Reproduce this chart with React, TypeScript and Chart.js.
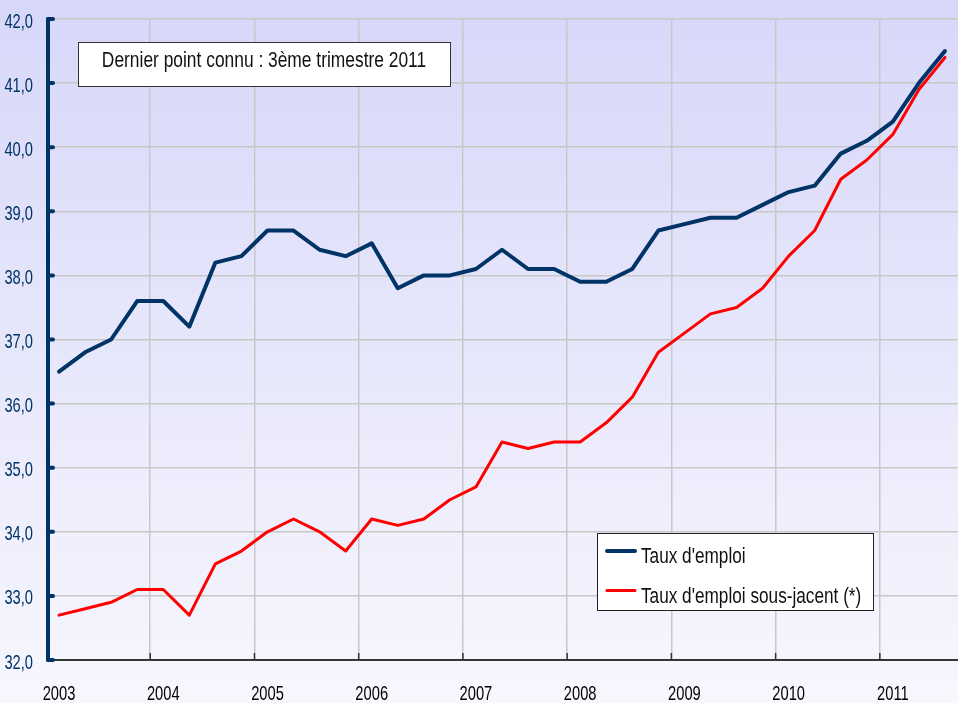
import React, { useEffect, useRef } from "react";
import { Chart, registerables } from "chart.js";

Chart.register(...registerables);

// ---- data ----
const quarterLabels = [
  "2003 T1", "2003 T2", "2003 T3", "2003 T4",
  "2004 T1", "2004 T2", "2004 T3", "2004 T4",
  "2005 T1", "2005 T2", "2005 T3", "2005 T4",
  "2006 T1", "2006 T2", "2006 T3", "2006 T4",
  "2007 T1", "2007 T2", "2007 T3", "2007 T4",
  "2008 T1", "2008 T2", "2008 T3", "2008 T4",
  "2009 T1", "2009 T2", "2009 T3", "2009 T4",
  "2010 T1", "2010 T2", "2010 T3", "2010 T4",
  "2011 T1", "2011 T2", "2011 T3",
];
const yearLabels = ["2003", "2004", "2005", "2006", "2007", "2008", "2009", "2010", "2011"];

const tauxEmploi = [
  36.5, 36.8, 37.0, 37.6, 37.6, 37.2, 38.2, 38.3, 38.7, 38.7, 38.4, 38.3,
  38.5, 37.8, 38.0, 38.0, 38.1, 38.4, 38.1, 38.1, 37.9, 37.9, 38.1, 38.7,
  38.8, 38.9, 38.9, 39.1, 39.3, 39.4, 39.9, 40.1, 40.4, 41.0, 41.5,
];
const tauxSousJacent = [
  32.7, 32.8, 32.9, 33.1, 33.1, 32.7, 33.5, 33.7, 34.0, 34.2, 34.0, 33.7,
  34.2, 34.1, 34.2, 34.5, 34.7, 35.4, 35.3, 35.4, 35.4, 35.7, 36.1, 36.8,
  37.1, 37.4, 37.5, 37.8, 38.3, 38.7, 39.5, 39.8, 40.2, 40.9, 41.4,
];
const seriesNames = ["Taux d'emploi", "Taux d'emploi sous-jacent (*)"];
const noteText = "Dernier point connu : 3ème trimestre 2011";
const yMin = 32;
const yMax = 42;

const fmtY = (v: number) => Number(v).toFixed(1).replace(".", ",");

// ---- font detection ----
function hasFont(name: string): boolean {
  const c = document.createElement("canvas").getContext("2d");
  if (!c) return false;
  const s = "Dernier point connu 2011 mmmwwwiii";
  c.font = "40px monospace";
  const a = c.measureText(s).width;
  c.font = `40px "${name}", monospace`;
  return Math.abs(c.measureText(s).width - a) > 0.5;
}

export default function App() {
  const ref = useRef<HTMLCanvasElement | null>(null);

  useEffect(() => {
    const canvas = ref.current;
    if (!canvas) return;

    // emulate Arial Narrow: Liberation Sans (Arial metrics) squeezed horizontally
    let family = '"Liberation Sans", Arial, sans-serif';
    let base = 0.82;
    if (hasFont("Liberation Sans Narrow")) { family = '"Liberation Sans Narrow"'; base = 1; }

    const drawText = (
      ctx: CanvasRenderingContext2D, text: string, x: number, y: number,
      align: CanvasTextAlign, size: number, color: string, squeeze: number
    ) => {
      ctx.save();
      ctx.font = `${size}px ${family}`;
      ctx.fillStyle = color;
      ctx.textAlign = align;
      ctx.textBaseline = "alphabetic";
      ctx.translate(x, y);
      ctx.scale(squeeze * (base === 1 ? 1 / 0.82 : 1), 1);
      ctx.fillText(text, 0, 0);
      ctx.restore();
    };

    const decor = {
      id: "decor",
      beforeDraw(chart: any) {
        const { ctx, width, height } = chart;
        const g = ctx.createLinearGradient(0, 0, 0, height);
        g.addColorStop(0, "#d7d7f9");
        g.addColorStop(1, "#f7f7fe");
        ctx.save();
        ctx.fillStyle = g;
        ctx.fillRect(0, 0, width, height);
        ctx.restore();
      },
      afterDraw(chart: any) {
        const { ctx, chartArea } = chart;
        const xs = chart.scales.x;
        const ys = chart.scales.y;
        const axisX = chartArea.left + 2;
        ctx.save();
        // x axis line
        ctx.strokeStyle = "#000";
        ctx.lineWidth = 1.5;
        ctx.beginPath();
        ctx.moveTo(axisX, chartArea.bottom);
        ctx.lineTo(chartArea.right, chartArea.bottom);
        ctx.stroke();
        // x inward ticks at year boundaries
        ctx.strokeStyle = "#333";
        ctx.lineWidth = 1.5;
        for (let i = 4; i < quarterLabels.length; i += 4) {
          const px = (xs.getPixelForTick(i) + xs.getPixelForTick(i - 1)) / 2;
          ctx.beginPath();
          ctx.moveTo(px, chartArea.bottom - 7);
          ctx.lineTo(px, chartArea.bottom);
          ctx.stroke();
        }
        // y axis thick line
        ctx.strokeStyle = "#003366";
        ctx.lineWidth = 4;
        ctx.lineCap = "round";
        ctx.beginPath();
        ctx.moveTo(axisX, ys.getPixelForValue(yMax));
        ctx.lineTo(axisX, ys.getPixelForValue(yMin));
        ctx.stroke();
        for (let v = yMin; v <= yMax; v += 1) {
          const py = ys.getPixelForValue(v);
          ctx.beginPath();
          ctx.moveTo(axisX, py);
          ctx.lineTo(axisX + 5, py);
          ctx.stroke();
        }
        ctx.restore();

        // y tick labels
        ys.ticks.forEach((t: any) => {
          const py = ys.getPixelForValue(t.value);
          drawText(ctx, fmtY(t.value), 33, py + 8.5, "right", 21, "#003366", 0.7);
        });
        // x tick labels (one per year, under the first quarter)
        for (let i = 0; i < quarterLabels.length; i += 4) {
          const px = xs.getPixelForTick(i);
          drawText(ctx, yearLabels[i / 4], px, 700, "center", 21, "#000", 0.7);
        }

        // note box
        ctx.save();
        ctx.fillStyle = "#ffffff";
        ctx.fillRect(78, 42, 372, 44);
        ctx.strokeStyle = "#333";
        ctx.lineWidth = 1;
        ctx.strokeRect(78.5, 42.5, 372, 44);
        ctx.restore();
        drawText(ctx, noteText, 264, 66.5, "center", 22, "#111", 0.79);

        // legend box
        ctx.save();
        ctx.fillStyle = "#ffffff";
        ctx.fillRect(597, 533, 276, 77);
        ctx.strokeStyle = "#222";
        ctx.lineWidth = 1;
        ctx.strokeRect(597.5, 533.5, 276, 77);
        const rows = [551, 590.5];
        chart.data.datasets.forEach((ds: any, i: number) => {
          ctx.strokeStyle = ds.borderColor;
          ctx.lineWidth = ds.borderWidth;
          ctx.lineCap = "round";
          ctx.beginPath();
          ctx.moveTo(607, rows[i]);
          ctx.lineTo(635, rows[i]);
          ctx.stroke();
        });
        ctx.restore();
        chart.data.datasets.forEach((ds: any, i: number) => {
          drawText(ctx, ds.label, 641, rows[i] + 12, "left", 21.5, "#111", 0.8);
        });
      },
    };

    const chart = new Chart(canvas, {
      type: "line",
      data: {
        labels: quarterLabels,
        datasets: [
          {
            label: seriesNames[0],
            data: tauxEmploi,
            borderColor: "#003366",
            borderWidth: 4,
            pointRadius: 0,
            tension: 0,
            borderJoinStyle: "round",
            borderCapStyle: "round",
          },
          {
            label: seriesNames[1],
            data: tauxSousJacent,
            borderColor: "#ff0000",
            borderWidth: 3,
            pointRadius: 0,
            tension: 0,
            borderJoinStyle: "round",
            borderCapStyle: "round",
          },
        ],
      },
      options: {
        responsive: false,
        animation: false,
        events: [],
        layout: { padding: { top: 19, right: 0, left: 0, bottom: 0 } },
        plugins: { legend: { display: false }, tooltip: { enabled: false } },
        scales: {
          x: {
            type: "category",
            offset: true,
            border: { display: false },
            grid: {
              offset: true,
              drawTicks: false,
              lineWidth: 1.5,
              color: (c: any) =>
                c.index > 0 && c.index % 4 === 0 ? "#c8c8c8" : "rgba(0,0,0,0)",
            },
            ticks: { display: false, autoSkip: false },
            afterFit: (s: any) => { s.height = 43; },
          },
          y: {
            min: yMin,
            max: yMax,
            border: { display: false },
            grid: { color: "#c8c8c8", lineWidth: 1.5, drawTicks: false },
            ticks: { display: false, stepSize: 1, callback: (v: any) => fmtY(v) },
            afterFit: (s: any) => { s.width = 46; },
          },
        },
      },
      plugins: [decor],
    });

    return () => chart.destroy();
  }, []);

  return (
    <div style={{ position: "fixed", left: 0, top: 0, width: 958, height: 703 }}>
      <canvas ref={ref} width={958} height={703} style={{ display: "block" }} />
    </div>
  );
}
